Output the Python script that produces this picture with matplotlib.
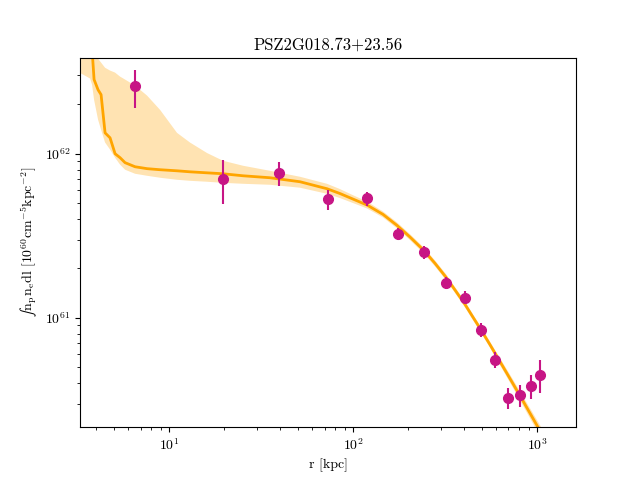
import matplotlib
matplotlib.use("Agg")
import matplotlib.pyplot as plt

plt.rcParams['font.family'] = 'serif'
plt.rcParams['font.serif'] = ['cmr10', 'DejaVu Serif']
plt.rcParams['mathtext.fontset'] = 'custom'
plt.rcParams['mathtext.rm'] = 'cmr10'
plt.rcParams['mathtext.it'] = 'cmmi10'
plt.rcParams['mathtext.fallback'] = 'stix'
plt.rcParams['axes.formatter.use_mathtext'] = True

# puntos medidos
r_datos = [6.53, 19.6, 39.7, 73.5, 119.6, 175.6, 243, 320, 407, 499, 591, 698, 809, 927, 1040]
y_datos = [2.57e62, 7.05e61, 7.66e61, 5.32e61, 5.37e61, 3.25e61, 2.52e61, 1.63e61,
           1.32e61, 8.45e60, 5.55e60, 3.24e60, 3.39e60, 3.85e60, 4.49e60]
y_sup = [3.25e62, 9.19e61, 8.93e61, 6.03e61, 5.86e61, 3.51e61, 2.75e61, 1.78e61,
         1.46e61, 9.33e60, 6.21e60, 3.74e60, 3.90e60, 4.49e60, 5.55e60]
y_inf = [1.91e62, 4.96e61, 6.38e61, 4.56e61, 4.82e61, 2.99e61, 2.29e61, 1.50e61,
         1.22e61, 7.66e60, 4.95e60, 2.79e60, 2.87e60, 3.21e60, 3.49e60]

# modelo y banda
r_mod = [3.325, 3.722, 3.815, 3.912, 4.113, 4.270, 4.489, 4.778, 5.088, 5.416, 5.767,
         6.535, 7.594, 8.938, 11.05, 13.00, 16.09, 19.66, 25.25, 35.39,
         51.52, 72.23, 85.0, 96.3, 119.2, 145.6, 173.4, 204.0, 243.2, 279.0, 320.2,
         358.4, 406.1, 449.0, 496.3, 555.4, 629.5, 713.4, 808.5, 916.2, 1105]
y_mod = [2.0e63, 5.7e62, 4.31e62, 2.83e62, 2.45e62, 2.29e62, 1.34e62, 1.25e62, 1.0e62,
         9.46e61, 8.82e61, 8.33e61, 8.11e61, 7.99e61, 7.87e61, 7.76e61, 7.65e61, 7.55e61,
         7.34e61, 7.14e61,
         6.75e61, 6.12e61, 5.72e61, 5.39e61, 4.87e61, 4.27e61, 3.66e61, 3.11e61, 2.57e61,
         2.15e61, 1.77e61, 1.48e61, 1.21e61, 1.01e61, 8.46e60, 6.87e60, 5.42e60, 4.27e60,
         3.36e60, 2.63e60, 1.82e60]
banda_inf = [3.08e62, 2.87e62, 2.63e62, 2.13e62, 1.61e62, 1.40e62, 1.17e62, 1.06e62,
             9.46e61, 8.58e61, 7.99e61, 7.55e61, 7.34e61, 7.14e61, 6.94e61, 6.84e61,
             6.75e61, 6.65e61, 6.56e61, 6.47e61,
             6.21e61, 5.70e61, 5.37e61, 5.09e61, 4.64e61, 4.09e61, 3.51e61, 2.98e61,
             2.46e61, 2.06e61, 1.70e61, 1.42e61, 1.16e61, 9.68e60, 8.11e60, 6.59e60,
             5.16e60, 4.04e60, 3.15e60, 2.45e60, 1.67e60]
banda_sup = [2.5e63, 8.7e62, 6.56e62, 4.95e62, 3.79e62, 3.59e62, 3.34e62, 3.21e62,
             3.12e62, 2.95e62, 2.83e62, 2.60e62, 2.26e62, 1.85e62, 1.34e62, 1.17e62,
             1.01e62, 9.06e61, 8.45e61, 7.87e61,
             7.24e61, 6.56e61, 6.09e61, 5.70e61, 5.11e61, 4.45e61, 3.82e61, 3.24e61,
             2.68e61, 2.24e61, 1.85e61, 1.54e61, 1.26e61, 1.05e61, 8.82e60, 7.17e60,
             5.69e60, 4.52e60, 3.58e60, 2.82e60, 1.98e60]

err = [[y - b for y, b in zip(y_datos, y_inf)], [s - y for y, s in zip(y_datos, y_sup)]]

fig, ax = plt.subplots(figsize=(6.4, 4.8), dpi=100)
ax.fill_between(r_mod, banda_inf, banda_sup, color='orange', alpha=0.3, lw=0)
ax.plot(r_mod, y_mod, color='orange', lw=2)
ax.errorbar(r_datos, y_datos, yerr=err, fmt='o', color='mediumvioletred',
            ms=7, elinewidth=1.5, capsize=0)
ax.set_xscale('log')
ax.set_yscale('log')
ax.set_xlim(3.28, 1630)
ax.set_ylim(2.16e60, 3.85e62)
ax.set_title(r'PSZ2G018.73+23.56')
ax.set_xlabel(r'r [kpc]')
ax.set_ylabel(r'$\int\mathrm{n_p n_e dl}\ [10^{60}\mathrm{cm^{-5}kpc^{-2}}]$')

plt.savefig('out.png')
